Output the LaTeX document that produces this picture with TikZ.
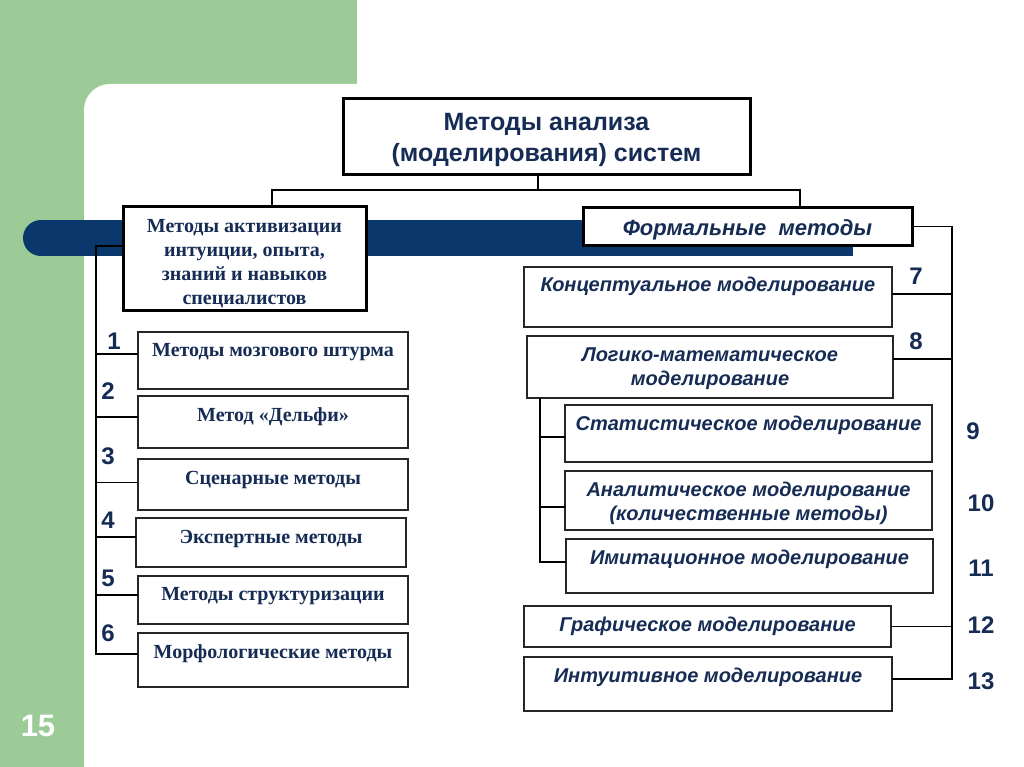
\documentclass[tikz,border=0pt]{standalone}
\usepackage{fontspec}
\setmainfont{Liberation Serif}
\setsansfont{Liberation Sans}
\newfontfamily\rsans{Liberation Sans}
\definecolor{bggreen}{RGB}{156,203,152}
\definecolor{barblue}{RGB}{10,56,108}
\definecolor{navy}{RGB}{22,44,84}
\begin{document}
\begin{tikzpicture}[x=1pt,y=-1pt,
  every node/.style={inner sep=0pt, outer sep=0pt},
  mainbox/.style={draw=black, line width=3pt, fill=white},
  itembox/.style={draw=black!85, line width=1.3pt, fill=white, anchor=north west},
  ltxt/.style={font=\rmfamily\bfseries\fontsize{20}{24}\selectfont, text=navy, align=center},
  rtxt/.style={font=\rsans\bfseries\itshape\fontsize{20}{24}\selectfont, text=navy, align=center},
  num/.style={font=\sffamily\bfseries\fontsize{24}{24}\selectfont, text=navy},
  conn/.style={draw=black, line width=1.2pt},
]
\useasboundingbox (0,0) rectangle (1024,767);
% background
\fill[bggreen] (0,0) rectangle (1024,767);
\fill[white] (357,0) rectangle (1024,767);
\fill[white, rounded corners=26] (84,84) rectangle (1060,800);
% blue bar
\fill[barblue] (41,220) rectangle (853,256);
\fill[barblue] (41,238) circle (18);
% page number
\node[font=\sffamily\bfseries\fontsize{31}{31}\selectfont, text=white] (pg) at (38,726) {15};

% top box
\node[mainbox, minimum width=407, minimum height=76] (top) at (546.5,137) {};
\node[align=center, font=\sffamily\bfseries\fontsize{25}{31}\selectfont, text=navy] (tt) at (546.5,140)
  {Методы анализа\\(моделирования) систем};
% left main
\node[mainbox, minimum width=243, minimum height=103] (lbig) at (244.5,258.5) {};
\node[ltxt] (lt) at (244.5,263.5)
  {Методы активизации\\интуиции, опыта,\\знаний и навыков\\специалистов};
% formal
\node[mainbox, minimum width=329, minimum height=37] (formal) at (747.5,226.5) {};
\node[text=navy, font=\rsans\bfseries\itshape\fontsize{22}{22}\selectfont] (ft) at (747.5,229.5)
  {Формальные\ \ методы};

% connectors from top
\draw[conn] ([xshift=-8.5pt]top.south) -- ++(0,15) -| ([xshift=27.5pt]lbig.north);
\draw[conn] ([xshift=-8.5pt]top.south) ++(0,15) -| ([xshift=52.5pt]formal.north);

% left items
\node[itembox, minimum width=270, minimum height=57] (b1) at (138,332) {};
\node[itembox, minimum width=270, minimum height=52] (b2) at (138,396) {};
\node[itembox, minimum width=270, minimum height=51] (b3) at (138,459) {};
\node[itembox, minimum width=270, minimum height=49] (b4) at (136,518) {};
\node[itembox, minimum width=270, minimum height=48] (b5) at (138,576) {};
\node[itembox, minimum width=270, minimum height=54] (b6) at (138,633) {};
\node[ltxt] (t1) at (273,352.5) {Методы мозгового штурма};
\node[ltxt] (t2) at (273,416.5) {Метод «Дельфи»};
\node[ltxt] (t3) at (273,480.5) {Сценарные методы};
\node[ltxt] (t4) at (271,539.5) {Экспертные методы};
\node[ltxt] (t5) at (273,596.5) {Методы структуризации};
\node[ltxt] (t6) at (273,653.5) {Морфологические методы};

\coordinate (lx) at (96,0);
\draw[conn] ([yshift=12.5pt]lbig.west) -| ([yshift=6pt]b6.west -| lx) -- ([yshift=6pt]b6.west);
\draw[conn] ([yshift=6.5pt]b1.west) -- ([yshift=6.5pt]b1.west -| lx);
\draw[conn] ([yshift=5pt]b2.west) -- ([yshift=5pt]b2.west -| lx);
\draw[conn] ([yshift=2pt]b3.west) -- ([yshift=2pt]b3.west -| lx);
\draw[conn] ([yshift=5.5pt]b4.west) -- ([yshift=5.5pt]b4.west -| lx);
\draw[conn] ([yshift=5pt]b5.west) -- ([yshift=5pt]b5.west -| lx);

\node[num] (n1) at (114,341) {1};
\node[num] (n2) at (108,391) {2};
\node[num] (n3) at (108,456) {3};
\node[num] (n4) at (108,520) {4};
\node[num] (n5) at (108,578) {5};
\node[num] (n6) at (108,633) {6};

% right items
\node[itembox, minimum width=368, minimum height=60] (r7) at (524,267) {};
\node[itembox, minimum width=366, minimum height=62] (r8) at (527,336) {};
\node[itembox, minimum width=367, minimum height=57] (r9) at (565,405) {};
\node[itembox, minimum width=367, minimum height=59] (r10) at (565,471) {};
\node[itembox, minimum width=367, minimum height=54] (r11) at (566,539) {};
\node[itembox, minimum width=367, minimum height=41] (r12) at (524,606) {};
\node[itembox, minimum width=368, minimum height=54] (r13) at (524,657) {};
\node[rtxt] (t7) at (708,286.5) {Концептуальное моделирование};
\node[rtxt] (t8) at (710,369) {Логико-математическое\\моделирование};
\node[rtxt] (t9) at (748.5,425.5) {Статистическое моделирование};
\node[rtxt] (t10) at (748.5,503.5) {Аналитическое моделирование\\(количественные методы)};
\node[rtxt] (t11) at (749.5,559.5) {Имитационное моделирование};
\node[rtxt] (t12) at (707.5,626.5) {Графическое моделирование};
\node[rtxt] (t13) at (708,677.5) {Интуитивное моделирование};

\coordinate (rx) at (952,0);
\draw[conn] (formal.east) -| ([yshift=5pt]r13.east -| rx) -- ([yshift=5pt]r13.east);
\draw[conn] ([yshift=3pt]r7.east) -- ([yshift=3pt]r7.east -| rx);
\draw[conn] ([yshift=8pt]r8.east) -- ([yshift=8pt]r8.east -| rx);
\draw[conn] (r12.east) -- (r12.east -| rx);

\coordinate (sx) at (540,0);
\draw[conn] (r8.south -| sx) -- ([yshift=4pt]r11.west -| sx) -- ([yshift=4pt]r11.west);
\draw[conn] ([yshift=-3.5pt]r9.west) -- ([yshift=-3.5pt]r9.west -| sx);
\draw[conn] ([yshift=-6.5pt]r10.west) -- ([yshift=-6.5pt]r10.west -| sx);

\node[num] (n7) at (916,276) {7};
\node[num] (n8) at (916,341) {8};
\node[num] (n9) at (973,431) {9};
\node[num] (n10) at (981,503) {10};
\node[num] (n11) at (981,568) {11};
\node[num] (n12) at (981,625) {12};
\node[num] (n13) at (981,681) {13};
\end{tikzpicture}
\end{document}
